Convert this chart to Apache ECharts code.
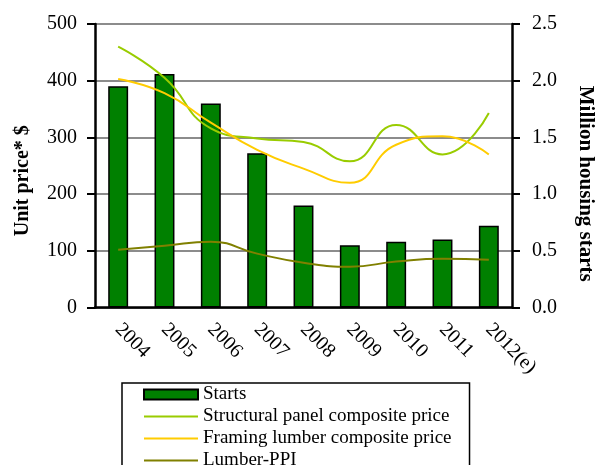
<!DOCTYPE html>
<html>
<head>
<meta charset="utf-8">
<script src="https://cdn.jsdelivr.net/npm/echarts@6/dist/echarts.min.js"></script>
<style>
  html, body { margin: 0; padding: 0; background: #ffffff; }
  #chart { width: 595px; height: 465px; }
</style>
</head>
<body>
<div id="chart"></div>
<script>
// categories and values
const years = ['2004', '2005', '2006', '2007', '2008', '2009', '2010', '2011', '2012(e)']
const starts = [1.95, 2.06, 1.8, 1.36, 0.9, 0.55, 0.58, 0.6, 0.72]
const structuralPanel = [460, 405, 316, 298, 292, 258, 322, 270, 343]
const framingLumber = [403, 378, 326, 278, 245, 220, 287, 302, 270]
const lumberPPI = [102, 109, 116, 95, 79, 72, 81, 86, 84]

const serif = 'Liberation Serif'
// plain line for the legend (no dot in the middle)
const lineIcon = 'path://M0,0 L54,0 L54,2 L0,2 Z'

const myChart = echarts.init(document.getElementById('chart'))
myChart.setOption({
  animation: false,
  textStyle: { fontFamily: serif, color: '#000' },
  grid: { left: 95, right: 83, top: 24, bottom: 157.5, outerBoundsMode: 'none' },
  legend: {
    orient: 'vertical',
    left: 122,
    top: 383,
    height: 120,
    padding: [2, 18, 10, 21],
    itemWidth: 54,
    itemHeight: 10,
    itemGap: 3,
    borderColor: '#000',
    borderWidth: 1.5,
    textStyle: { fontFamily: serif, fontSize: 19, lineHeight: 18, color: '#000' },
    data: [
      { name: 'Starts', icon: 'rect' },
      { name: 'Structural panel composite price', icon: lineIcon, itemStyle: { color: '#99cc00' } },
      { name: 'Framing lumber composite price', icon: lineIcon, itemStyle: { color: '#ffcc00' } },
      { name: 'Lumber-PPI', icon: lineIcon, itemStyle: { color: '#808000' } }
    ]
  },
  xAxis: {
    type: 'category',
    data: years,
    boundaryGap: true,
    axisLine: { lineStyle: { color: '#000', width: 2.5 } },
    axisTick: { interval: 0, length: 7, lineStyle: { color: '#000', width: 2 } },
    axisLabel: { interval: 0, rotate: -45, margin: 19, fontSize: 20, color: '#000', fontFamily: serif }
  },
  yAxis: [
    {
      type: 'value',
      min: 0,
      max: 500,
      interval: 100,
      name: 'Unit price* $',
      nameLocation: 'middle',
      nameGap: 62,
      nameTextStyle: { fontSize: 20, fontWeight: 'bold', fontFamily: serif, color: '#000', padding: [0, 30, 0, 0] },
      axisLine: { show: true, lineStyle: { color: '#000', width: 2.5 } },
      axisTick: { show: true, length: 8, lineStyle: { color: '#000', width: 2 } },
      axisLabel: { fontSize: 20, margin: 18, color: '#000', fontFamily: serif },
      splitLine: { lineStyle: { color: '#8c8c8c', width: 2 } }
    },
    {
      type: 'value',
      min: 0,
      max: 2.5,
      interval: 0.5,
      position: 'right',
      name: 'Million housing starts',
      nameLocation: 'middle',
      nameRotate: -90,
      nameGap: 63,
      nameTextStyle: { fontSize: 21, fontWeight: 'bold', fontFamily: serif, color: '#000', padding: [0, 0, 0, 36] },
      axisLine: { show: true, lineStyle: { color: '#000', width: 2.5 } },
      axisTick: { show: true, length: 8, lineStyle: { color: '#000', width: 2 } },
      axisLabel: { fontSize: 20, margin: 20, color: '#000', fontFamily: serif, formatter: (v) => v.toFixed(1) },
      splitLine: { show: false }
    }
  ],
  series: [
    {
      name: 'Starts',
      type: 'bar',
      yAxisIndex: 1,
      data: starts,
      barCategoryGap: '57%',
      itemStyle: { color: '#008000', borderColor: '#000', borderWidth: 1.5 }
    },
    {
      name: 'Structural panel composite price',
      type: 'line',
      data: structuralPanel,
      smooth: 0.5,
      symbol: 'none',
      lineStyle: { color: '#99cc00', width: 2 },
      itemStyle: { color: '#99cc00' }
    },
    {
      name: 'Framing lumber composite price',
      type: 'line',
      data: framingLumber,
      smooth: 0.5,
      symbol: 'none',
      lineStyle: { color: '#ffcc00', width: 2 },
      itemStyle: { color: '#ffcc00' }
    },
    {
      name: 'Lumber-PPI',
      type: 'line',
      data: lumberPPI,
      smooth: 0.5,
      symbol: 'none',
      lineStyle: { color: '#808000', width: 2 },
      itemStyle: { color: '#808000' }
    }
  ]
})
</script>
</body>
</html>
